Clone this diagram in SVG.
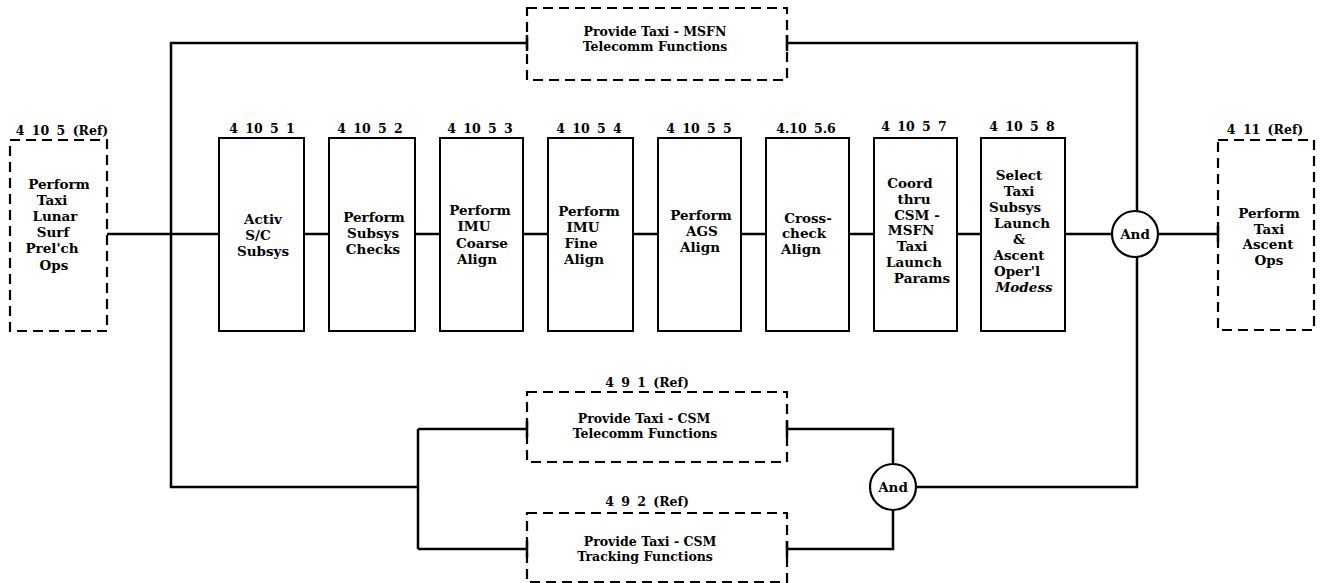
<svg xmlns="http://www.w3.org/2000/svg" width="1326" height="583" viewBox="0 0 1326 583">
<style>
.bg{fill:#fff}
.box{fill:#fff;stroke:#000;stroke-width:2}
.ref{fill:none;stroke:#000;stroke-width:2.2;stroke-dasharray:10 6}
.ln{fill:none;stroke:#000;stroke-width:2.5}
.tk{stroke:#000;stroke-width:2.5}
.gate{fill:#fff;stroke:#000;stroke-width:2.2}
text{font-family:"DejaVu Serif","Liberation Serif",serif;font-weight:bold;font-size:13.5px;fill:#000;text-anchor:middle}
.num{font-size:12.5px;word-spacing:3px}
.wide{font-size:12.5px}
</style>
<rect class="bg" x="0" y="0" width="1326" height="583"/>

<g id="connectors">
  <path class="ln" d="M107 234 H219 M304 234 H329 M415 234 H440 M523 234 H548 M633 234 H658 M741 234 H766 M849 234 H874 M957 234 H981 M1065 234 H1112 M1158 234 H1218"/>
  <path class="ln" d="M527 43 H171 V487 H418 M418 429 V549 M418 429 H527 M418 549 H527"/>
  <path class="ln" d="M787 43 H1137 V211 M1137 257 V487 H916 M787 429 H893 V464 M787 549 H893 V510"/>
  <path class="tk" d="M527 35 V51 M787 35 V51 M1218 226 V242 M527 421 V437 M527 541 V557 M787 421 V437 M787 541 V557"/>
</g>

<g id="n4105ref">
  <rect class="ref" x="10" y="140" width="97" height="191"/>
  <text class="num" x="62" y="135">4 10 5 (Ref)</text>
  <text x="59" y="189">Perform</text>
  <text x="52" y="205">Taxi</text>
  <text x="55" y="221">Lunar</text>
  <text x="53" y="237">Surf</text>
  <text x="52" y="253">Prel'ch</text>
  <text x="54" y="270">Ops</text>
</g>

<g id="n41051">
  <rect class="box" x="219" y="138" width="85" height="193"/>
  <text class="num" x="262" y="133">4 10 5 1</text>
  <text x="263" y="224">Activ</text>
  <text x="258" y="240">S/C</text>
  <text x="263" y="256">Subsys</text>
</g>

<g id="n41052">
  <rect class="box" x="329" y="138" width="86" height="193"/>
  <text class="num" x="370" y="133">4 10 5 2</text>
  <text x="374" y="222">Perform</text>
  <text x="373" y="238">Subsys</text>
  <text x="373" y="254">Checks</text>
</g>

<g id="n41053">
  <rect class="box" x="440" y="138" width="83" height="193"/>
  <text class="num" x="480" y="133">4 10 5 3</text>
  <text x="480" y="215">Perform</text>
  <text x="474" y="231">IMU</text>
  <text x="482" y="248">Coarse</text>
  <text x="477" y="264">Align</text>
</g>

<g id="n41054">
  <rect class="box" x="548" y="138" width="85" height="193"/>
  <text class="num" x="589" y="133">4 10 5 4</text>
  <text x="589" y="216">Perform</text>
  <text x="583" y="232">IMU</text>
  <text x="581" y="248">Fine</text>
  <text x="584" y="264">Align</text>
</g>

<g id="n41055">
  <rect class="box" x="658" y="138" width="83" height="193"/>
  <text class="num" x="699" y="133">4 10 5 5</text>
  <text x="701" y="220">Perform</text>
  <text x="702" y="236">AGS</text>
  <text x="700" y="252">Align</text>
</g>

<g id="n41056">
  <rect class="box" x="766" y="138" width="83" height="193"/>
  <text class="num" x="806" y="133">4.10 5.6</text>
  <text x="808" y="223">Cross-</text>
  <text x="804" y="238">check</text>
  <text x="801" y="254">Align</text>
</g>

<g id="n41057">
  <rect class="box" x="874" y="138" width="83" height="193"/>
  <text class="num" x="914" y="131">4 10 5 7</text>
  <text x="910" y="188">Coord</text>
  <text x="914" y="204">thru</text>
  <text x="917" y="220">CSM -</text>
  <text x="911" y="235">MSFN</text>
  <text x="912" y="251">Taxi</text>
  <text x="914" y="267">Launch</text>
  <text x="922" y="283">Params</text>
</g>

<g id="n41058">
  <rect class="box" x="981" y="138" width="84" height="193"/>
  <text class="num" x="1022" y="131">4 10 5 8</text>
  <text x="1019" y="180">Select</text>
  <text x="1019" y="196">Taxi</text>
  <text x="1015" y="212">Subsys</text>
  <text x="1022" y="228">Launch</text>
  <text x="1019" y="244">&amp;</text>
  <text x="1019" y="260">Ascent</text>
  <text x="1017" y="276">Oper'l</text>
  <text x="1024" y="292" font-style="italic">Modess</text>
</g>

<g id="and1">
  <circle class="gate" cx="1135" cy="234" r="23"/>
  <text x="1135" y="239" font-size="12.5">And</text>
</g>

<g id="n411ref">
  <rect class="ref" x="1218" y="140" width="96" height="190"/>
  <text class="num" x="1265" y="134">4 11 (Ref)</text>
  <text x="1269" y="218">Perform</text>
  <text x="1269" y="234">Taxi</text>
  <text x="1268" y="249">Ascent</text>
  <text x="1269" y="265">Ops</text>
</g>

<g id="msfn">
  <rect class="ref" x="527" y="8" width="260" height="72"/>
  <text class="wide" x="655" y="36">Provide Taxi - MSFN</text>
  <text class="wide" x="655" y="51">Telecomm Functions</text>
</g>

<g id="n491ref">
  <rect class="ref" x="527" y="392" width="260" height="70"/>
  <text class="num" x="647" y="387">4 9 1 (Ref)</text>
  <text class="wide" x="644" y="423">Provide Taxi - CSM</text>
  <text class="wide" x="645" y="438">Telecomm Functions</text>
</g>

<g id="n492ref">
  <rect class="ref" x="527" y="513" width="260" height="69"/>
  <text class="num" x="647" y="506">4 9 2 (Ref)</text>
  <text class="wide" x="650" y="546">Provide Taxi - CSM</text>
  <text class="wide" x="645" y="561">Tracking Functions</text>
</g>

<g id="and2">
  <circle class="gate" cx="893" cy="487" r="23"/>
  <text x="893" y="492" font-size="12">And</text>
</g>
</svg>
